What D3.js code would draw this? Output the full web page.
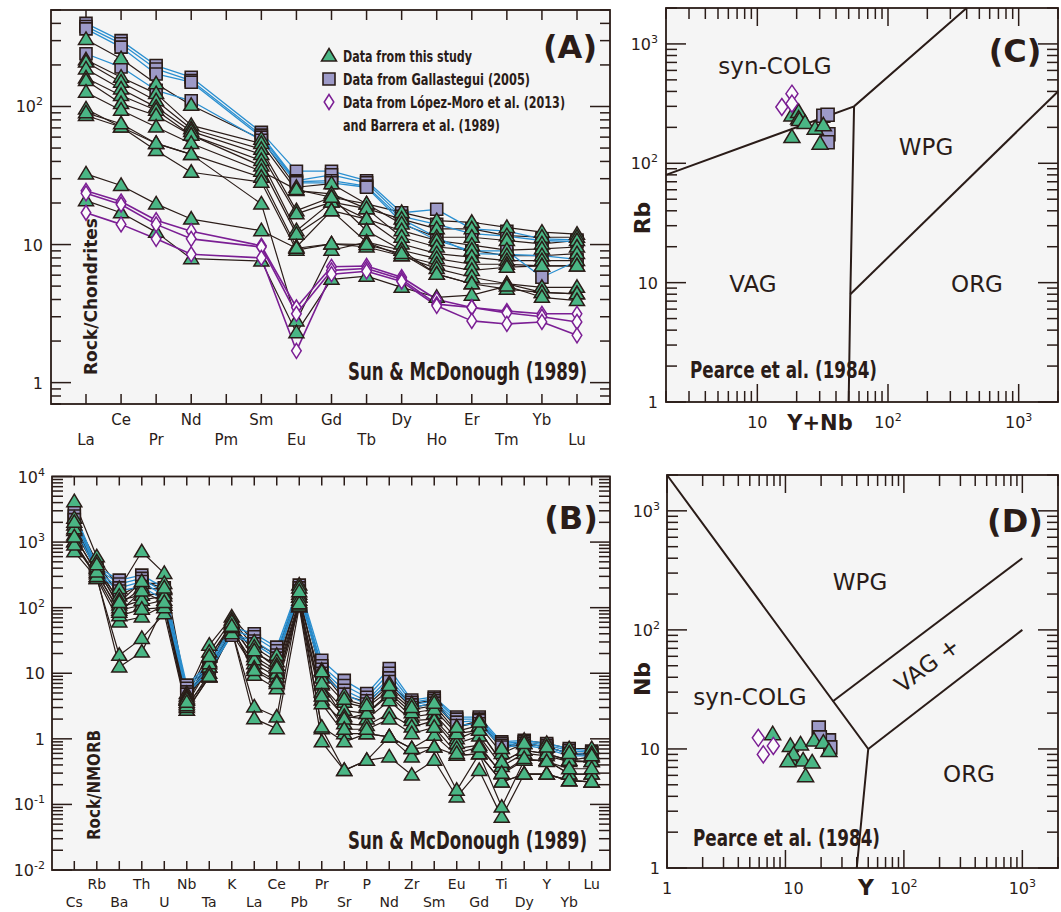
<!DOCTYPE html>
<html><head><meta charset="utf-8">
<script src="https://cdn.jsdelivr.net/npm/d3@7"></script>
<style>
body{margin:0;background:#fff;}
text{font-family:"DejaVu Sans",sans-serif;fill:#2a1c18;}
.cond{font-family:"DejaVu Sans Condensed","DejaVu Sans",sans-serif;font-stretch:condensed;font-weight:bold;}
</style></head>
<body>
<script>
// ---------------- DATA ----------------
const reeElements = ["La","Ce","Pr","Nd","Pm","Sm","Eu","Gd","Tb","Dy","Ho","Er","Tm","Yb","Lu"];
// Rock/Chondrite, this study (Pm not analysed -> null)
const reeThisStudy = [
  [306,222,146,102,null,58,26,27.6,19.7,17.1,14.9,14.5,13.3,12.3,11.9],
  [218,163,124,73,null,54,24.6,23.3,18.2,15.3,13.0,13.0,11.6,11.3,11.3],
  [210,150,110,69,null,49,17.6,22,19.7,14.1,11.3,11.3,10.7,10.1,10.7],
  [187,134,99,66,null,45,16.7,20.3,15.3,12.6,10.7,9.9,9.1,9.3,9.6],
  [161,120,94,62,null,40.6,12.6,20.3,18.2,11.3,9.6,9.1,8.3,8.3,8.6],
  [154,105,86,62,null,37,11.9,17.6,15.3,10.1,8.6,8.1,7.65,7.65,7.65],
  [127,94,71,54,null,34,25,22,12.6,9.1,7.9,7.2,7.2,7.0,7.0],
  [96,71,54,45,null,30.7,9.6,17.6,10.4,8.3,7.2,6.5,6.85,7.0,7.0],
  [86,71,48,33.4,null,28.3,9.1,10.1,9.6,8.3,6.7,5.8,5.2,4.9,4.9],
  [90,75,54,45,null,19.7,2.8,9.1,10.4,9.1,6.1,5.2,4.75,4.5,4.4],
  [32.5,26.8,19.7,15.3,null,12.6,9.4,10.1,10.0,8.6,6.1,5.2,5.2,4.5,4.4],
  [20.8,17,12.3,7.9,null,7.6,2.3,5.6,5.9,4.9,4.15,4.3,5.0,4.15,3.93]
];
const reeGallastegui = [
  [400,300,198,163,null,65,34,34,29,17,18,13,12.5,11,10.8],
  [380,285,187,154,null,62,29,32,28,16,14,12,11.5,10.7,10.5],
  [365,269,172,150,null,60,28.5,29,26.5,15.3,11.3,8.6,8.5,8.3,7.8],
  [241,193,131,110,null,57,28,28,26,14.5,10.7,9,9,5.8,7.6]
];
const reeLopezMoro = [
  [24.5,20.5,15,12.5,null,9.8,3.5,6.9,7.0,5.8,4.0,3.5,3.3,3.15,3.15],
  [23.5,19.5,14,11,null,9.6,3.15,6.5,6.7,5.6,3.7,3.5,3.2,3.0,2.75],
  [17,14,11,8.5,null,8.0,1.7,6.1,6.4,5.4,3.6,2.8,2.66,2.75,2.2]
];

const spiderElements = ["Cs","Rb","Ba","Th","U","Nb","Ta","K","La","Ce","Pb","Pr","Sr","P","Nd","Zr","Sm","Eu","Gd","Ti","Dy","Y","Yb","Lu"];
// Rock/NMORB, this study
const spiderThisStudy = [
  [4130,597,196,711,333,4.9,26.8,72,30,18.8,221,11.1,4.6,3.65,7.0,3.44,3.9,1.51,1.9,0.71,0.95,0.85,0.71,0.71],
  [2300,500,150,234,234,4.5,21,65,25,15,200,8.5,3.6,3.0,5.5,2.8,3.2,1.3,1.6,0.6,0.85,0.75,0.6,0.6],
  [1820,398,130,155,164,3.87,17.7,57,21,13.2,146,6.6,2.72,2.43,4.6,2.15,2.43,1.0,1.35,0.44,0.67,0.59,0.47,0.53],
  [1500,380,110,200,190,4.2,15,50,18,11,160,5.2,2.2,2.0,3.8,1.9,2.0,0.85,1.1,0.38,0.6,0.55,0.45,0.45],
  [1280,330,91.6,109,130,3.4,12.5,45,14,8.8,120,3.9,1.7,1.6,2.43,1.51,1.9,0.71,0.8,0.29,0.47,0.47,0.29,0.29],
  [1010,279,60.7,72,109,2.72,8.8,57,9.3,5.8,103,3.44,1.2,1.2,1.07,0.71,1.13,0.56,0.59,0.22,0.29,0.29,0.23,0.22],
  [711,279,18.8,34,81,2.72,8.8,45,3.06,2.15,146,1.43,0.33,0.47,0.53,0.28,0.47,0.13,0.33,0.064,0.29,0.29,0.23,0.22],
  [1010,300,12.5,21,109,3.87,12.5,45,2.03,1.43,103,0.9,0.33,0.47,1.07,0.53,0.75,0.164,0.59,0.091,0.47,0.47,0.29,0.29],
  [1600,420,100,130,150,4.0,14,60,16,10,130,7.0,2.0,2.43,5.0,2.5,2.8,1.2,1.35,0.44,0.67,0.59,0.47,0.45],
  [900,300,75,95,100,3.0,10,40,12,7.5,110,1.51,0.9,1.2,1.07,0.71,0.75,0.56,0.59,0.22,0.29,0.29,0.23,0.22],
  [1200,350,85,180,120,3.2,9,50,11,7.0,115,4.5,1.4,1.4,2.0,1.2,1.5,0.6,0.75,0.3,0.5,0.45,0.35,0.35],
  [2000,450,120,250,200,3.6,18,52,22,12,175,10.5,4.0,3.2,6.5,3.0,3.5,1.5,1.8,0.71,0.85,0.75,0.6,0.55]
];
const spiderGallastegui = [
  [2900,420,263,313,200,6.6,14,51,40,25,221,15.8,7.8,4.9,11.8,3.9,4.35,2.15,2.15,0.9,0.95,0.85,0.71,0.65],
  [2500,400,230,280,170,5.9,13,45,36,22,200,13,6.5,4.3,10,3.6,4.1,2.0,2.0,0.85,0.9,0.8,0.66,0.62],
  [2200,370,200,250,150,5.2,12,40,31,19,180,11.5,5.5,3.8,8.5,3.3,3.8,1.8,1.9,0.8,0.85,0.75,0.6,0.58],
  [1800,340,180,210,130,4.8,11,38,28,17,160,10,4.8,3.4,7.5,3.0,3.5,1.6,1.7,0.75,0.8,0.7,0.55,0.55]
];

// Pearce et al. (1984): [Y+Nb, Rb]
const rbThisStudy = [[18.4,252],[20.7,269],[20.7,237],[21,230],[23.2,218],[27.7,195],[32,208],[18.4,166],[30.2,146]];
const rbGallastegui = [[32,250],[34.5,255],[35,175],[34.5,150]];
const rbLopezMoro = [[15.4,296],[18.4,383],[18.4,316]];
// [Y, Nb]
const nbThisStudy = [[7.8,13.3],[11,10.6],[13.4,10.9],[11,8.2],[11.7,9.0],[14.1,8.0],[16.8,7.7],[14.8,5.9],[17.4,11.8],[20.9,11.3],[23.3,9.6],[10.5,7.9]];
const nbGallastegui = [[19.1,15.1],[23.3,11.8],[23.9,10.3],[19.5,12.5]];
const nbLopezMoro = [[5.9,12.4],[7.9,10.6],[6.5,9.0]];

const pearceRbBoundaries = [
  [[2,80],[55,300],[400,2000]],
  [[50,1],[51.5,8],[55,300]],
  [[51.5,8],[2000,400]]
];
const pearceNbBoundaries = [
  [[1,2000],[50,10],[40,1]],
  [[25,25],[1000,400]],
  [[50,10],[1000,100]]
];

const legendLabels = ["Data from this study","Data from Gallastegui (2005)","Data from López-Moro et al. (2013)","and Barrera et al. (1989)"];

// ---------------- STYLE ----------------
const INK = "#2a1c18", BG = "#f5f5f5", GREEN = "#4ab685", LAV = "#9d9ac8",
      BLUE = "#2a8fd0", PURPLE = "#7b1e94";
const TRI = "M0,-7.5L7.5,5L-7.5,5Z", SQ = "M-6,-6H6V6H-6Z", DIA = "M0,-7.5L4.8,0L0,7.5L-4.8,0Z";
const TRI_L = "M0,-8L8,5.5L-8,5.5Z", SQ_L = "M-6.5,-6.5H6.5V6.5H-6.5Z", DIA_L = "M0,-8.5L6,0L0,8.5L-6,0Z";

const svg = d3.select("body").append("svg").attr("width",1061).attr("height",912);

function bg(p){ svg.append("rect").attr("x",p.x0).attr("y",p.y0).attr("width",p.x1-p.x0).attr("height",p.y1-p.y0).attr("fill",BG); }
function border(p){ svg.append("rect").attr("x",p.x0).attr("y",p.y0).attr("width",p.x1-p.x0).attr("height",p.y1-p.y0).attr("fill","none").attr("stroke",INK).attr("stroke-width",1.8); }
function logTicks(dom){
  const out=[]; const [a,b]=dom;
  for(let e=Math.floor(Math.log10(a)); e<=Math.ceil(Math.log10(b)); e++)
    for(let m=1;m<=9;m++){ const v=m*Math.pow(10,e); if(v>=a*0.9999 && v<=b*1.0001) out.push({v,major:m===1,e}); }
  return out;
}
function tick(x1,y1,x2,y2){ svg.append("line").attr("x1",x1).attr("y1",y1).attr("x2",x2).attr("y2",y2).attr("stroke",INK).attr("stroke-width",1.5); }
function yLogTicks(p,y,dom,maj,min){
  logTicks(dom).forEach(t=>{ const yy=y(t.v), L=t.major?maj:min; tick(p.x0,yy,p.x0+L,yy); tick(p.x1,yy,p.x1-L,yy); });
}
function xLogTicks(p,x,dom,maj,min){
  logTicks(dom).forEach(t=>{ const xx=x(t.v), L=t.major?maj:min; tick(xx,p.y0,xx,p.y0+L); tick(xx,p.y1,xx,p.y1-L); });
}
function catTicks(p,x,cats,len){ cats.forEach(c=>{ tick(x(c),p.y0,x(c),p.y0+len); tick(x(c),p.y1,x(c),p.y1-len); }); }
function powLabel(x,y,e,anchor){
  const t=svg.append("text").attr("x",x).attr("y",y).attr("text-anchor",anchor).attr("font-size",16);
  if(e===0) t.text("1"); else if(e===1) t.text("10");
  else { t.text("10"); t.append("tspan").attr("dy",-7).attr("font-size",11).text(e); }
  return t;
}
function yPowLabels(y,dom,xr){
  logTicks(dom).filter(t=>t.major).forEach(t=>powLabel(xr,y(t.v)+6,t.e,"end"));
}
function mark(path,x,y,fill,stroke,sw){
  svg.append("path").attr("d",path).attr("transform",`translate(${x},${y})`).attr("fill",fill).attr("stroke",stroke).attr("stroke-width",sw);
}
function seriesLines(rows,cats,x,y,color,w){
  const line=d3.line().x(d=>x(d.c)).y(d=>y(d.v));
  rows.forEach(r=>{
    const pts=r.map((v,i)=>({c:cats[i],v})).filter(d=>d.v!=null);
    svg.append("path").attr("d",line(pts)).attr("fill","none").attr("stroke",color).attr("stroke-width",w).attr("stroke-linejoin","round");
  });
}
function seriesMarks(rows,cats,x,y,path,fill,stroke,sw){
  rows.forEach(r=>r.forEach((v,i)=>{ if(v!=null) mark(path,x(cats[i]),y(v),fill,stroke,sw); }));
}
function condText(x,y,str,size,len,anchor){
  const t=svg.append("text").attr("class","cond").attr("x",x).attr("y",y).attr("font-size",size).attr("text-anchor",anchor||"start").text(str);
  if(len) t.attr("textLength",len).attr("lengthAdjust","spacingAndGlyphs");
  return t;
}
function catLabels(cats,x,yUp,yLo,size){
  cats.forEach((c,i)=>svg.append("text").attr("x",x(c)).attr("y",i%2?yUp:yLo).attr("text-anchor","middle").attr("font-size",size).text(c));
}
function panelTag(x,y,str){ svg.append("text").attr("x",x).attr("y",y).attr("text-anchor","middle").attr("font-size",32).attr("font-weight","bold").text(str); }

// ---------------- PANEL A ----------------
const pA={x0:51,y0:10,x1:610,y1:404};
const domA=[0.7,500];
const xA=d3.scalePoint().domain(reeElements).range([86,577]);
const yA=d3.scaleLog().domain(domA).range([pA.y1,pA.y0]);
bg(pA);
yLogTicks(pA,yA,domA,20,10);
catTicks(pA,xA,reeElements,10);
seriesLines(reeThisStudy,reeElements,xA,yA,INK,1.2);
seriesLines(reeGallastegui,reeElements,xA,yA,BLUE,1.3);
seriesLines(reeLopezMoro,reeElements,xA,yA,PURPLE,1.6);
seriesMarks(reeGallastegui,reeElements,xA,yA,SQ,LAV,INK,1.6);
seriesMarks(reeThisStudy,reeElements,xA,yA,TRI,GREEN,INK,1.5);
seriesMarks(reeLopezMoro,reeElements,xA,yA,DIA,"#fbfbfb",PURPLE,1.5);
border(pA);
yPowLabels(yA,domA,43);
catLabels(reeElements,xA,425,445,15);
panelTag(570,58,"(A)");
// legend
mark(TRI,329,56,GREEN,INK,1.5); mark(SQ,329,79,LAV,INK,1.6); mark(DIA,329,102,"#fbfbfb",PURPLE,1.5);
condText(343,62,legendLabels[0],15,129);
condText(343,85,legendLabels[1],15,187);
condText(343,108,legendLabels[2],15,222);
condText(343,131,legendLabels[3],15,157);
condText(587,380,"Sun & McDonough (1989)",25,239,"end");
condText(97,375,"Rock/Chondrites",18,157).attr("transform","rotate(-90,97,375)");

// ---------------- PANEL B ----------------
const pB={x0:52,y0:476.5,x1:610,y1:870};
const domB=[0.01,10000];
const xB=d3.scalePoint().domain(spiderElements).range([74.3,591.7]);
const yB=d3.scaleLog().domain(domB).range([pB.y1,pB.y0]);
bg(pB);
yLogTicks(pB,yB,domB,20,11);
catTicks(pB,xB,spiderElements,9);
seriesLines(spiderThisStudy,spiderElements,xB,yB,INK,1.2);
seriesLines(spiderGallastegui,spiderElements,xB,yB,BLUE,1.3);
seriesMarks(spiderGallastegui,spiderElements,xB,yB,SQ,LAV,INK,1.6);
seriesMarks(spiderThisStudy,spiderElements,xB,yB,TRI,GREEN,INK,1.5);
border(pB);
yPowLabels(yB,domB,45);
catLabels(spiderElements,xB,889,907,14);
panelTag(571,529,"(B)");
condText(587,849,"Sun & McDonough (1989)",25,239,"end");
condText(100,840,"Rock/NMORB",18,110).attr("transform","rotate(-90,100,840)");

// ---------------- PANEL C ----------------
const pC={x0:666,y0:8,x1:1058,y1:402};
const domCx=[2,2000], domCy=[1,2000];
const xC=d3.scaleLog().domain(domCx).range([pC.x0,pC.x1]);
const yC=d3.scaleLog().domain(domCy).range([pC.y1,pC.y0]);
bg(pC);
yLogTicks(pC,yC,domCy,20,11);
xLogTicks(pC,xC,domCx,18,11);
const bLine=d3.line().x(d=>xC(d[0])).y(d=>yC(d[1]));
pearceRbBoundaries.forEach(b=>svg.append("path").attr("d",bLine(b)).attr("fill","none").attr("stroke",INK).attr("stroke-width",2));
rbGallastegui.forEach(d=>mark(SQ_L,xC(d[0]),yC(d[1]),LAV,INK,1.6));
rbThisStudy.forEach(d=>mark(TRI_L,xC(d[0]),yC(d[1]),GREEN,INK,1.5));
rbLopezMoro.forEach(d=>mark(DIA_L,xC(d[0]),yC(d[1]),"#fbfbfb",PURPLE,1.5));
border(pC);
yPowLabels(yC,domCy,658);
logTicks(domCx).filter(t=>t.major).forEach(t=>powLabel(xC(t.v),428,t.e,"middle"));
svg.append("text").attr("x",820).attr("y",430).attr("text-anchor","middle").attr("font-size",21).attr("font-weight","bold").text("Y+Nb");
svg.append("text").attr("x",650).attr("y",218).attr("text-anchor","middle").attr("font-size",22).attr("font-weight","bold").attr("transform","rotate(-90,650,218)").text("Rb");
panelTag(1015,62,"(C)");
[["syn-COLG",775,74],["WPG",926,155],["VAG",753,292],["ORG",977,292]].forEach(l=>svg.append("text").attr("x",l[1]).attr("y",l[2]).attr("text-anchor","middle").attr("font-size",23).text(l[0]));
condText(690,378,"Pearce et al. (1984)",23,187);

// ---------------- PANEL D ----------------
const pD={x0:667,y0:475,x1:1058,y1:868};
const domDx=[1,2000], domDy=[1,2000];
const xD=d3.scaleLog().domain(domDx).range([pD.x0,pD.x1]);
const yD=d3.scaleLog().domain(domDy).range([pD.y1,pD.y0]);
bg(pD);
yLogTicks(pD,yD,domDy,20,11);
xLogTicks(pD,xD,domDx,18,11);
const dLine=d3.line().x(d=>xD(d[0])).y(d=>yD(d[1]));
pearceNbBoundaries.forEach(b=>svg.append("path").attr("d",dLine(b)).attr("fill","none").attr("stroke",INK).attr("stroke-width",2));
nbGallastegui.forEach(d=>mark(SQ_L,xD(d[0]),yD(d[1]),LAV,INK,1.6));
nbThisStudy.forEach(d=>mark(TRI_L,xD(d[0]),yD(d[1]),GREEN,INK,1.5));
nbLopezMoro.forEach(d=>mark(DIA_L,xD(d[0]),yD(d[1]),"#fbfbfb",PURPLE,1.5));
border(pD);
yPowLabels(yD,domDy,660);
logTicks(domDx).filter(t=>t.major).forEach(t=>powLabel(xD(t.v)+(t.e===1?8:0),894,t.e,"middle"));
svg.append("text").attr("x",866).attr("y",895).attr("text-anchor","middle").attr("font-size",22).attr("font-weight","bold").text("Y");
svg.append("text").attr("x",650).attr("y",679).attr("text-anchor","middle").attr("font-size",22).attr("font-weight","bold").attr("transform","rotate(-90,650,679)").text("Nb");
panelTag(1015,532,"(D)");
[["WPG",860,590],["syn-COLG",750,705],["ORG",969,782]].forEach(l=>svg.append("text").attr("x",l[1]).attr("y",l[2]).attr("text-anchor","middle").attr("font-size",23).text(l[0]));
svg.append("text").attr("x",927).attr("y",673).attr("text-anchor","middle").attr("font-size",23).attr("transform","rotate(-37,927,665)").text("VAG +");
condText(693,846,"Pearce et al. (1984)",23,187);
</script>
</body></html>
